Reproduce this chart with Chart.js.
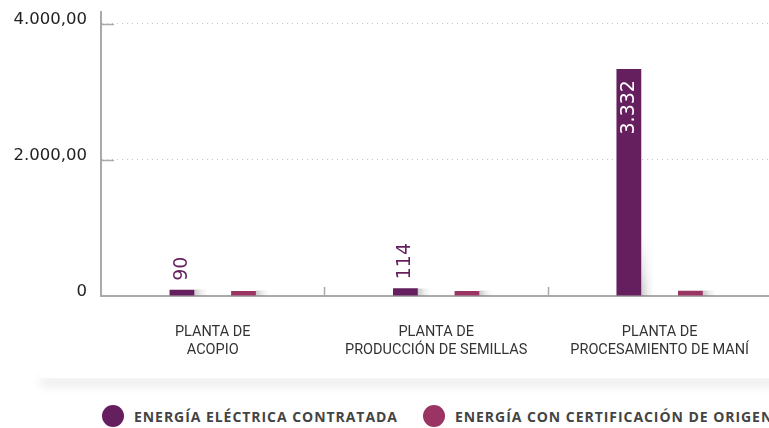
<!DOCTYPE html>
<html lang="es">
<head>
<meta charset="utf-8">
<script src="https://cdn.jsdelivr.net/npm/chart.js@4/dist/chart.umd.min.js"></script>
<style>
  html, body { margin: 0; padding: 0; background: #fff; }
  body { width: 769px; height: 428px; overflow: hidden; position: relative; }
  #wrap { position: absolute; left: 0; top: 0; width: 776px; height: 380px; z-index: 2; }
  #shade { position: absolute; left: 40px; top: 372px; width: 760px; height: 6px; background: #fff;
           box-shadow: 0 7px 11px rgba(0,0,0,0.12); z-index: 1; }
  #legend { position: absolute; left: 102px; top: 405px; white-space: nowrap; z-index: 3;
            font-family: "Open Sans", sans-serif; font-weight: 700; font-size: 14px; color: #444;
            letter-spacing: 0.95px; }
  #legend span.item { display: inline-flex; align-items: center; margin-right: 25px; }
  #legend span.dot { width: 22px; height: 22px; border-radius: 50%; display: inline-block; margin-right: 10px; }
</style>
</head>
<body>
<div id="shade"></div>
<div id="wrap"><canvas id="energyChart" width="776" height="380"></canvas></div>
<div id="legend"></div>
<script>
var plantas = [
    ['PLANTA DE', 'ACOPIO'],
    ['PLANTA DE', 'PRODUCCIÓN DE SEMILLAS'],
    ['PLANTA DE', 'PROCESAMIENTO DE MANÍ']
];
var contratada = [90, 114, 3332];
var certificada = [75, 75, 78];
var serieNombres = ['ENERGÍA ELÉCTRICA CONTRATADA', 'ENERGÍA CON CERTIFICACIÓN DE ORIGEN'];
var serieColores = ['#651f5e', '#9a3462'];
var yTicks = [0, 2000, 4000];

function miles(v) {
    return String(v).replace(/\B(?=(\d{3})+(?!\d))/g, '.');
}

// soft shadow on the right side of each bar, fading upwards on tall bars
var barShadow = {
    id: 'barShadow',
    beforeDatasetsDraw: function (chart) {
        var ctx = chart.ctx;
        ctx.save();
        chart.data.datasets.forEach(function (ds, i) {
            chart.getDatasetMeta(i).data.forEach(function (bar) {
                var right = bar.x + bar.width / 2;
                var h = Math.round(bar.base - bar.y);
                var g = ctx.createLinearGradient(right, 0, right + 13, 0);
                g.addColorStop(0, 'rgba(0,0,0,0.22)');
                g.addColorStop(0.5, 'rgba(0,0,0,0.07)');
                g.addColorStop(1, 'rgba(0,0,0,0)');
                ctx.fillStyle = g;
                var fade = 65;
                for (var r = 0; r < Math.min(h, fade); r++) {
                    ctx.globalAlpha = h > fade ? Math.pow(1 - r / fade, 1.3) : 1;
                    ctx.fillRect(right, bar.base - r - 1, 13, 1);
                }
            });
        });
        ctx.restore();
    }
};

// axis tick marks drawn inside the plot area, plus rotated value labels
var extras = {
    id: 'extras',
    afterDatasetsDraw: function (chart) {
        var ctx = chart.ctx;
        var area = chart.chartArea;
        var x = chart.scales.x, y = chart.scales.y;
        ctx.save();
        ctx.strokeStyle = '#aaa';
        ctx.lineWidth = 1.5;
        yTicks.forEach(function (v) {
            if (v === 0) return;
            var py = Math.round(y.getPixelForValue(v)) + 0.5;
            ctx.beginPath();
            ctx.moveTo(area.left, py);
            ctx.lineTo(area.left + 13, py);
            ctx.stroke();
        });
        for (var i = 1; i < plantas.length; i++) {
            var px = Math.round((x.getPixelForValue(i - 1) + x.getPixelForValue(i)) / 2) + 0.5;
            ctx.beginPath();
            ctx.moveTo(px, area.bottom);
            ctx.lineTo(px, area.bottom - 9);
            ctx.stroke();
        }

        ctx.font = '19px "DejaVu Sans", sans-serif';
        ctx.textBaseline = 'middle';
        chart.getDatasetMeta(0).data.forEach(function (bar, idx) {
            var txt = miles(contratada[idx]);
            var h = bar.base - bar.y;
            ctx.save();
            ctx.translate(bar.x, bar.y);
            ctx.rotate(-Math.PI / 2);
            if (h > 80) {
                ctx.fillStyle = '#ffffff';
                ctx.textAlign = 'right';
                ctx.fillText(txt, -11, 0);
            } else {
                ctx.fillStyle = serieColores[0];
                ctx.textAlign = 'left';
                ctx.fillText(txt, 9, 0);
            }
            ctx.restore();
        });
        ctx.restore();
    }
};

var ctx = document.getElementById('energyChart').getContext('2d');
var energyChart = new Chart(ctx, {
    type: 'bar',
    data: {
        labels: plantas,
        datasets: [{
            label: serieNombres[0],
            data: contratada,
            backgroundColor: serieColores[0]
        }, {
            label: serieNombres[1],
            data: certificada,
            backgroundColor: serieColores[1]
        }]
    },
    options: {
        responsive: false,
        animation: false,
        categoryPercentage: 0.551,
        barPercentage: 0.403,
        layout: { padding: { top: 12, right: 0, left: 0, bottom: 0 } },
        plugins: {
            legend: { display: false },
            tooltip: { enabled: false }
        },
        scales: {
            x: {
                afterFit: function (scale) { scale.height = 84; },
                grid: { display: false, drawTicks: false },
                border: { color: '#aaa', width: 2 },
                ticks: {
                    padding: 27,
                    maxRotation: 0,
                    color: '#333',
                    font: { family: 'Roboto', size: 14.5, lineHeight: 1.27 }
                }
            },
            y: {
                min: 0,
                max: 4170,
                afterFit: function (scale) {
                    scale.width = 101;
                    scale.paddingTop = 0;
                    scale.paddingBottom = 0;
                },
                afterBuildTicks: function (scale) {
                    scale.ticks = yTicks.map(function (v) { return { value: v }; });
                },
                grid: {
                    drawTicks: false,
                    color: function (c) { return c.tick && c.tick.value === 0 ? 'rgba(0,0,0,0)' : '#c4c4c4'; },
                    lineWidth: 1
                },
                border: { color: '#aaa', width: 2, dash: [1, 4] },
                ticks: {
                    padding: 14,
                    labelOffset: -4,
                    color: '#222',
                    font: { family: '"DejaVu Sans"', size: 16.5 },
                    callback: function (v) {
                        return v === 0 ? '0' : miles(v) + ',00';
                    }
                }
            }
        }
    },
    plugins: [barShadow, extras]
});

var legend = document.getElementById('legend');
energyChart.data.datasets.forEach(function (ds) {
    var item = document.createElement('span');
    item.className = 'item';
    var dot = document.createElement('span');
    dot.className = 'dot';
    dot.style.background = ds.backgroundColor;
    item.appendChild(dot);
    item.appendChild(document.createTextNode(ds.label));
    legend.appendChild(item);
});
</script>
</body>
</html>
